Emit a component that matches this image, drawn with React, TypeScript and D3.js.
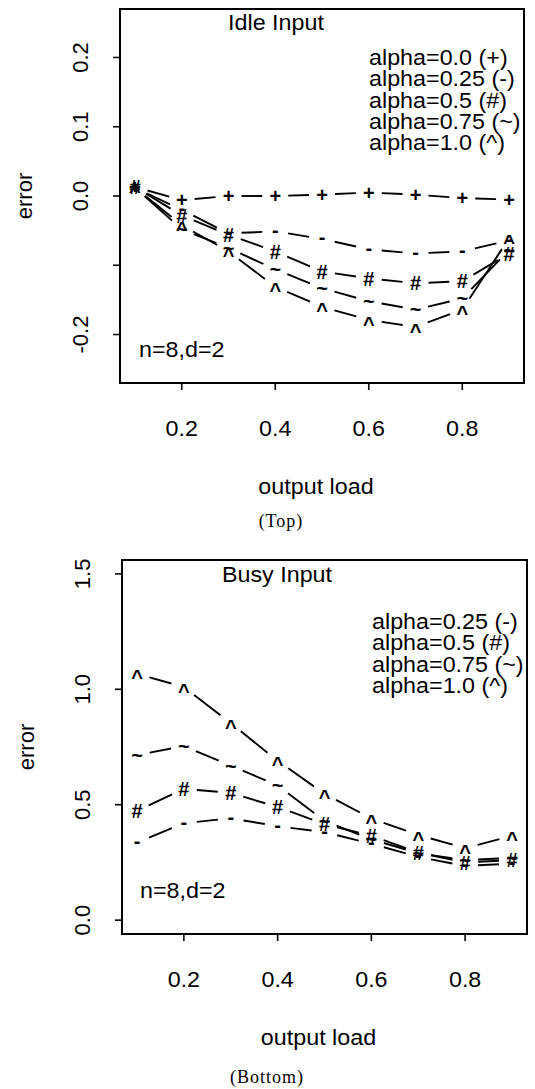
import React from 'react';
import * as d3 from 'd3';

// output load values shared by both panels
const loads = [0.1, 0.2, 0.3, 0.4, 0.5, 0.6, 0.7, 0.8, 0.9];
const xTicks = [0.2, 0.4, 0.6, 0.8];
const xTickLabels = ['0.2', '0.4', '0.6', '0.8'];

// Idle input panel
const idleYTicks = [-0.2, -0.1, 0.0, 0.1, 0.2];
const idleYTickLabels = ['-0.2', '', '0.0', '0.1', '0.2'];
const idleAlpha000 = [0.013, -0.006, 0.0, 0.0, 0.002, 0.005, 0.002, -0.003, -0.005];
const idleAlpha025 = [0.012, -0.02, -0.054, -0.051, -0.062, -0.077, -0.083, -0.08, -0.064];
const idleAlpha050 = [0.013, -0.028, -0.056, -0.08, -0.109, -0.119, -0.126, -0.123, -0.083];
const idleAlpha075 = [0.012, -0.048, -0.075, -0.106, -0.133, -0.152, -0.164, -0.148, -0.078];
const idleAlpha100 = [0.012, -0.042, -0.08, -0.131, -0.16, -0.179, -0.189, -0.164, -0.061];
const idleSymbols = ['+', '-', '#', '~', '^'];
const idleLegend = ['alpha=0.0 (+)', 'alpha=0.25 (-)', 'alpha=0.5 (#)', 'alpha=0.75 (~)', 'alpha=1.0 (^)'];

// Busy input panel
const busyYTicks = [0.0, 0.5, 1.0, 1.5];
const busyYTickLabels = ['0.0', '0.5', '1.0', '1.5'];
const busyAlpha025 = [0.336, 0.42, 0.441, 0.407, 0.381, 0.331, 0.274, 0.235, 0.245];
const busyAlpha050 = [0.473, 0.569, 0.551, 0.49, 0.416, 0.365, 0.293, 0.25, 0.26];
const busyAlpha075 = [0.715, 0.754, 0.669, 0.584, 0.43, 0.35, 0.29, 0.26, 0.27];
const busyAlpha100 = [1.067, 1.01, 0.853, 0.69, 0.547, 0.44, 0.369, 0.312, 0.365];
const busySymbols = ['-', '#', '~', '^'];
const busyLegend = ['alpha=0.25 (-)', 'alpha=0.5 (#)', 'alpha=0.75 (~)', 'alpha=1.0 (^)'];

const SANS = '"Liberation Sans", Arial, Helvetica, sans-serif';
const SERIF = '"Liberation Serif", "Times New Roman", serif';
const FS = 22;
const SX = 1.06;
const SYM_FS = 20;
const GAP = 13;

// height of each plotting character's ink centre above the baseline, in em
const symCentre: Record<string, number> = { '+': 0.354, '-': 0.277, '#': 0.357, '~': 0.34, '^': 0.53 };

type PanelProps = {
  left: number; right: number; top: number; bottom: number;
  yDomain: [number, number];
  yTicks: number[]; yTickLabels: string[];
  series: number[][]; symbols: string[];
  title: string; titleX: number; titleY: number;
  legend: string[]; legendX: number; legendY: number; legendStep: number;
  noteX: number; noteY: number;
  xlabY: number; caption: string; captionX: number; captionY: number;
};

function Label({ x, y, text, anchor = 'start' }: { x: number; y: number; text: string; anchor?: string }) {
  return (
    <g transform={`translate(${x},${y}) scale(${SX},1)`}>
      <text x={0} y={0} textAnchor={anchor} fontFamily={SANS} fontSize={FS} fill="#000">{text}</text>
    </g>
  );
}

function Panel(p: PanelProps) {
  const x = d3.scaleLinear().domain([0.068, 0.932]).range([p.left, p.right]);
  const y = d3.scaleLinear().domain(p.yDomain).range([p.bottom, p.top]);

  const segments: { x1: number; y1: number; x2: number; y2: number }[] = [];
  p.series.forEach((vals) => {
    for (let i = 0; i < vals.length - 1; i++) {
      const ax = x(loads[i]), ay = y(vals[i]);
      const bx = x(loads[i + 1]), by = y(vals[i + 1]);
      const d = Math.hypot(bx - ax, by - ay);
      if (d <= 2 * GAP) continue;
      const ux = (bx - ax) / d, uy = (by - ay) / d;
      segments.push({ x1: ax + ux * GAP, y1: ay + uy * GAP, x2: bx - ux * GAP, y2: by - uy * GAP });
    }
  });

  const midY = (p.top + p.bottom) / 2;

  return (
    <g>
      {/* plot frame */}
      <rect x={p.left} y={p.top} width={p.right - p.left} height={p.bottom - p.top} fill="none" stroke="#000" strokeWidth={2} />
      {/* x axis */}
      {xTicks.map((t, i) => (
        <g key={`xt${i}`}>
          <line x1={x(t)} x2={x(t)} y1={p.bottom} y2={p.bottom + 7} stroke="#000" strokeWidth={1.6} />
          <Label x={x(t)} y={p.bottom + 53} text={xTickLabels[i]} anchor="middle" />
        </g>
      ))}
      {/* y axis */}
      {p.yTicks.map((t, i) => (
        <g key={`yt${i}`}>
          <line x1={p.left - 7} x2={p.left} y1={y(t)} y2={y(t)} stroke="#000" strokeWidth={1.6} />
          {p.yTickLabels[i] && (
            <text transform={`translate(${p.left - 32},${y(t)}) rotate(-90)`} textAnchor="middle" fontFamily={SANS} fontSize={FS} fill="#000">
              {p.yTickLabels[i]}
            </text>
          )}
        </g>
      ))}
      <text transform={`translate(${p.left - 88},${midY}) rotate(-90)`} textAnchor="middle" fontFamily={SANS} fontSize={FS} fill="#000">error</text>
      <Label x={(p.left + p.right) / 2 - 6} y={p.xlabY} text="output load" anchor="middle" />
      <text x={p.captionX} y={p.captionY} textAnchor="middle" fontFamily={SERIF} fontSize={18} letterSpacing={1} fill="#000">{p.caption}</text>

      {/* connecting lines with gaps around the points */}
      {segments.map((s, i) => (
        <line key={`s${i}`} x1={s.x1} y1={s.y1} x2={s.x2} y2={s.y2} stroke="#000" strokeWidth={1.9} />
      ))}
      {/* plotting characters */}
      {p.series.map((vals, si) =>
        vals.map((v, i) => (
          <text key={`p${si}-${i}`} x={x(loads[i])} y={y(v)} dy={symCentre[p.symbols[si]] * SYM_FS}
            textAnchor="middle" fontFamily={SANS} fontSize={SYM_FS} fontWeight="bold" fill="#000">
            {p.symbols[si]}
          </text>
        ))
      )}

      <Label x={p.titleX} y={p.titleY} text={p.title} anchor="middle" />
      {p.legend.map((l, i) => (
        <Label key={`lg${i}`} x={p.legendX} y={p.legendY + i * p.legendStep} text={l} />
      ))}
      <Label x={p.noteX} y={p.noteY} text="n=8,d=2" />
    </g>
  );
}

export default function App() {
  return (
    <svg width={535} height={1089} viewBox="0 0 535 1089" style={{ position: 'absolute', left: 0, top: 0, background: '#fff' }}>
      <rect x={0} y={0} width={535} height={1089} fill="#fff" />
      <Panel
        left={120} right={524} top={9} bottom={383}
        yDomain={[-0.27, 0.27]} yTicks={idleYTicks} yTickLabels={idleYTickLabels}
        series={[idleAlpha000, idleAlpha025, idleAlpha050, idleAlpha075, idleAlpha100]} symbols={idleSymbols}
        title="Idle Input" titleX={276} titleY={30}
        legend={idleLegend} legendX={369} legendY={65} legendStep={21.25}
        noteX={139} noteY={357}
        xlabY={494} caption="(Top)" captionX={281} captionY={527}
      />
      <Panel
        left={122} right={527} top={560} bottom={934}
        yDomain={[-0.06, 1.56]} yTicks={busyYTicks} yTickLabels={busyYTickLabels}
        series={[busyAlpha025, busyAlpha050, busyAlpha075, busyAlpha100]} symbols={busySymbols}
        title="Busy Input" titleX={277} titleY={582}
        legend={busyLegend} legendX={372} legendY={629} legendStep={21.3}
        noteX={140} noteY={898}
        xlabY={1045} caption="(Bottom)" captionX={267} captionY={1083}
      />
    </svg>
  );
}
